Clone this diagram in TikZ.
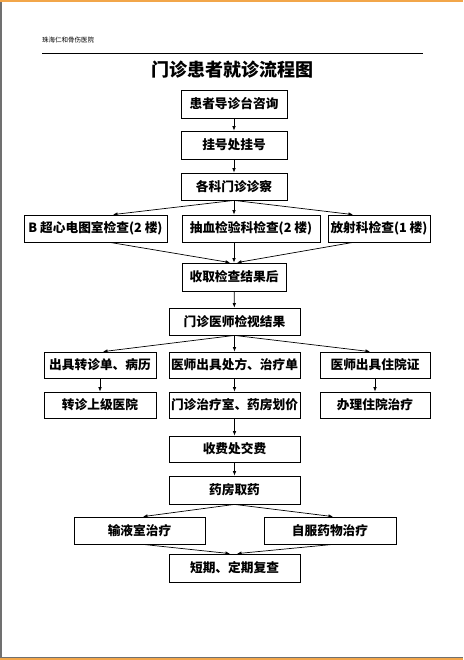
\documentclass[tikz,border=0pt]{standalone}
\usepackage{fontspec}
\newfontfamily\cjk{Noto Sans CJK SC}
\usetikzlibrary{arrows.meta}
\definecolor{pageorange}{HTML}{F2A64A}
\definecolor{pagegray}{HTML}{707070}
\begin{document}
\begin{tikzpicture}
  [x=1pt,y=-1pt,
   box/.style={draw=black,line width=0.8pt,inner sep=0pt,minimum height=27,
     font=\cjk\bfseries\fontsize{12.7}{14}\selectfont},
   arr/.style={-{Latex[length=4.5pt,width=3.6pt]},line width=0.7pt}]
  \useasboundingbox (0,0) rectangle (463,660);

  % page edges
  \fill[pageorange] (0,0) rectangle (463,2);
  \fill[pagegray] (0,2) rectangle (1.6,657.5);
  \fill[pagegray] (0,656.5) rectangle (463,657.6);
  \fill[pageorange] (0,657.6) rectangle (463,659.6);

  % header and title
  \node[anchor=west,inner sep=0pt,font=\cjk\fontsize{6.5}{7}\selectfont] (hdr) at (42,40) {珠海仁和骨伤医院};
  \draw[line width=0.8pt] (42,53) -- (423,53);
  \node[inner sep=0pt,font=\cjk\bfseries\fontsize{18}{20}\selectfont] (title) at (232,70) {门诊患者就诊流程图};

  \node[box,minimum width=106,minimum height=28] (A) at (234,104) {患者导诊台咨询};
  \node[box,minimum width=106,minimum height=28] (B) at (234,145) {挂号处挂号};
  \node[box,minimum width=106] (C) at (234,186.5) {各科门诊诊察};
  \node[box,minimum width=143] (D1) at (95.5,228.5) {B 超心电图室检查(2 楼)};
  \node[box,minimum width=138] (D2) at (251,228.5) {抽血检验科检查(2 楼)};
  \node[box,minimum width=102] (D3) at (379,228.5) {放射科检查(1 楼)};
  \node[box,minimum width=104,minimum height=28] (E) at (234,277) {收取检查结果后};
  \node[box,minimum width=131] (F) at (234.5,321.5) {门诊医师检视结果};
  \node[box,minimum width=112,minimum height=26] (G1) at (100,365) {出具转诊单、病历};
  \node[box,minimum width=131,minimum height=26] (G2) at (234.5,365) {医师出具处方、治疗单};
  \node[box,minimum width=110,minimum height=26] (G3) at (375,365) {医师出具住院证};
  \node[box,minimum width=112,minimum height=26] (H1) at (100,405) {转诊上级医院};
  \node[box,minimum width=131,minimum height=26] (H2) at (234.5,405) {门诊治疗室、药房划价};
  \node[box,minimum width=110,minimum height=26] (H3) at (375,405) {办理住院治疗};
  \node[box,minimum width=131,minimum height=26] (I) at (234.5,449) {收费处交费};
  \node[box,minimum width=131,minimum height=28] (J) at (234.5,490) {药房取药};
  \node[box,minimum width=131] (K1) at (139.5,530.5) {输液室治疗};
  \node[box,minimum width=132] (K2) at (330,530.5) {自服药物治疗};
  \node[box,minimum width=131,minimum height=28] (L) at (234.5,568) {短期、定期复查};

  \foreach \from/\to in {A/B,B/C,E/F,F/G2,G1/H1,G2/H2,G3/H3,H2/I,I/J}
    \draw[arr] (\from) -- (\to);

  % branches to the three examinations
  \draw[arr] (C.south) -- ([xshift=17.5]D1.north);
  \draw[arr] (C.south) -- (C.south |- D2.north);
  \draw[arr] (C.south) -- ([xshift=-26]D3.north);

  % back to the results
  \draw[arr] ([xshift=14.5]D1.south) -- ([xshift=-4]E.north);
  \draw[arr] (E.north |- D2.south) -- (E.north);
  \draw[arr] ([xshift=-26]D3.south) -- ([xshift=3]E.north);

  \draw[arr] (F.south) -- ([xshift=3]G1.north);
  \draw[arr] (F.south) -- ([xshift=-5]G3.north);

  \draw[arr] (J.south) -- ([xshift=3.5]K1.north);
  \draw[arr] (J.south) -- ([xshift=3]K2.north);
  \draw[arr] ([xshift=3.5]K1.south) -- ([xshift=-4.5]L.north);
  \draw[arr] ([xshift=3]K2.south) -- ([xshift=2.5]L.north);
\end{tikzpicture}
\end{document}
